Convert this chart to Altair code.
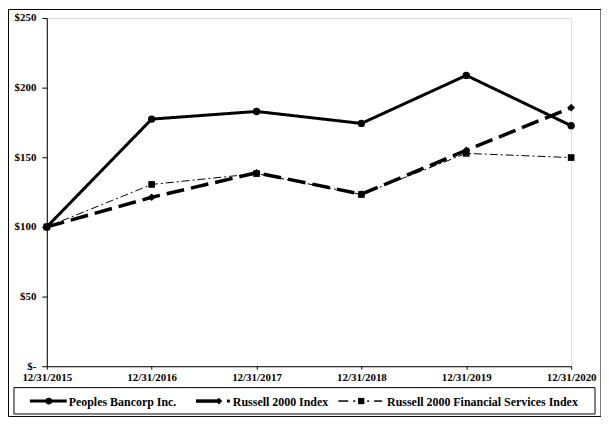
import altair as alt
import pandas as pd

dates = ["12/31/2015", "12/31/2016", "12/31/2017", "12/31/2018", "12/31/2019", "12/31/2020"]
peoples = [100, 177.4, 182.9, 174.3, 208.8, 172.7]
russell = [100, 121.3, 138.9, 123.5, 155.0, 185.6]
financial = [100, 130.5, 138.3, 123.3, 152.8, 149.8]
series_names = ["Peoples Bancorp Inc.", "Russell 2000 Index", "Russell 2000 Financial Services Index"]
y_ticks = [0, 50, 100, 150, 200, 250]

FONT = "Liberation Serif"

x_enc = alt.X(
    "date:O",
    sort=dates,
    scale=alt.Scale(type="point", padding=0),
    axis=alt.Axis(
        title=None, labelAngle=0, labelFont=FONT, labelFontWeight="bold",
        labelFontSize=11, labelColor="black", domainColor="black", tickColor="black",
        tickSize=3, labelPadding=2, grid=False, labelOverlap=False, labelBound=False,
        labelFlush=False,
    ),
)
y_enc = alt.Y(
    "value:Q",
    scale=alt.Scale(domain=[0, 250], nice=False),
    axis=alt.Axis(
        title=None, values=y_ticks, labelExpr="datum.value == 0 ? '$-' : '$' + datum.value",
        labelFont=FONT, labelFontWeight="bold", labelFontSize=11, labelColor="black",
        domainColor="black", tickColor="black", tickSize=5, labelPadding=6, grid=False,
    ),
)

styles = [
    dict(vals=peoples, width=3, dash=[1, 0], shape="circle", size=55),
    dict(vals=russell, width=3.5, dash=[18, 7], shape="diamond", size=60),
    dict(vals=financial, width=1, dash=[8, 3, 2, 3], shape="square", size=45),
]

layers = []
for name, st in reversed(list(zip(series_names, styles))):
    df = pd.DataFrame({"date": dates, "value": st["vals"], "series": name})
    base = alt.Chart(df).encode(x=x_enc, y=y_enc)
    layers.append(base.mark_line(color="black", strokeWidth=st["width"], strokeDash=st["dash"]))
    layers.append(base.mark_point(shape=st["shape"], size=st["size"], filled=True, color="black", opacity=1))

one = pd.DataFrame({"k": [0]})

# outer border and legend box
layers.append(alt.Chart(one).mark_rect(fill=None, stroke="black", strokeWidth=1).encode(
    x=alt.value(-38.5), x2=alt.value(557), y=alt.value(-8.5), y2=alt.value(400.5)))
layers.append(alt.Chart(one).mark_rect(fill="white", stroke="black", strokeWidth=1).encode(
    x=alt.value(-33), x2=alt.value(551), y=alt.value(371.5), y2=alt.value(398)))

ly = 385
# entry 1
layers.append(alt.Chart(one).mark_rule(color="black", strokeWidth=3).encode(
    x=alt.value(-17), x2=alt.value(20), y=alt.value(ly)))
layers.append(alt.Chart(one).mark_point(shape="circle", size=45, filled=True, color="black", opacity=1).encode(
    x=alt.value(2), y=alt.value(ly)))
# entry 2
layers.append(alt.Chart(one).mark_rule(color="black", strokeWidth=3.5).encode(
    x=alt.value(150), x2=alt.value(173), y=alt.value(ly)))
layers.append(alt.Chart(one).mark_point(shape="diamond", size=45, filled=True, color="black", opacity=1).encode(
    x=alt.value(173), y=alt.value(ly)))
layers.append(alt.Chart(one).mark_rule(color="black", strokeWidth=3).encode(
    x=alt.value(181), x2=alt.value(184), y=alt.value(ly)))
# entry 3
layers.append(alt.Chart(one).mark_rule(color="black", strokeWidth=1.5).encode(
    x=alt.value(293), x2=alt.value(303), y=alt.value(ly)))
layers.append(alt.Chart(one).mark_rule(color="black", strokeWidth=1.5).encode(
    x=alt.value(308), x2=alt.value(310), y=alt.value(ly)))
layers.append(alt.Chart(one).mark_point(shape="square", size=40, filled=True, color="black", opacity=1).encode(
    x=alt.value(316), y=alt.value(ly)))
layers.append(alt.Chart(one).mark_rule(color="black", strokeWidth=1.5).encode(
    x=alt.value(322), x2=alt.value(324), y=alt.value(ly)))
layers.append(alt.Chart(one).mark_rule(color="black", strokeWidth=1.5).encode(
    x=alt.value(329), x2=alt.value(337), y=alt.value(ly)))

for name, tx in zip(series_names, [22, 187, 342]):
    layers.append(alt.Chart(one).mark_text(
        align="left", baseline="middle", font=FONT, fontWeight="bold", fontSize=12, color="black"
    ).encode(x=alt.value(tx), y=alt.value(ly + 1), text=alt.value(name)))

chart = alt.layer(*layers).properties(
    width=527, height=350,
    autosize=alt.AutoSizeParams(type="none"),
    padding={"left": 39, "top": 9, "right": 30, "bottom": 51},
).configure_view(stroke="black", strokeWidth=1).configure(background="white")

chart.save("out.html", embed_options={"renderer": "svg", "actions": False})
